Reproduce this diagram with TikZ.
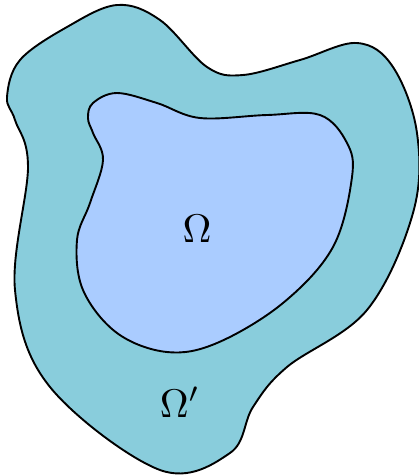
\documentclass[tikz,border=0pt]{standalone}
\usepackage{amsmath,amssymb}
\usepackage{xcolor}
\usepackage{tikz}

\definecolor{outerfill}{HTML}{89CDDC}
\definecolor{innerfill}{HTML}{AACCFF}

\begin{document}
\begin{tikzpicture}[
  x=1pt, y=-1pt,
  region/.style={draw=black, line width=1.9pt, line join=round},
  lbl/.style={scale=4, transform shape, inner sep=0pt},
]
  \useasboundingbox (0,0) rectangle (419,475);

  % outer domain
  \draw[region, fill=outerfill] plot[smooth cycle, tension=0.6] coordinates {
    (117,5) (160,20) (207,67) (243,75) (300,60) (357,43) (393,67)
    (417,133) (413,213) (367,310) (287,367) (253,407) (230,453)
    (160,470) (50,387) (15,290) (28,167) (15,120) (7,97) (20,60) (67,27)};

  % inner domain
  \draw[region, fill=innerfill] plot[smooth cycle, tension=0.6] coordinates {
    (117,93) (157,103) (200,118) (267,115) (320,115) (347,143)
    (352,177) (333,247) (283,303) (217,343) (167,352) (117,333)
    (83,290) (77,240) (90,203) (103,160) (93,133) (88,118) (93,103)};

  \node[lbl, anchor=base] (omega)  at (197,242) {$\Omega$};
  \node[lbl, anchor=base west] (omegap) at (159,417) {$\Omega'$};
\end{tikzpicture}
\end{document}
